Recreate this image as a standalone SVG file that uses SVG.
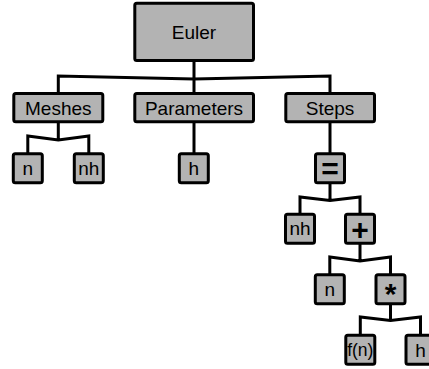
<svg xmlns="http://www.w3.org/2000/svg" width="429" height="369" viewBox="0 0 429 369">
  <style>
    .box { fill: #b3b3b3; stroke: #000; stroke-width: 3; }
    .lbl { font-family: "Liberation Sans", Arial, sans-serif; font-size: 19px; fill: #000; text-anchor: middle; }
    .op { font-family: "Liberation Sans", Arial, sans-serif; font-weight: bold; font-size: 30px; fill: #000; text-anchor: middle; }
    .wire { fill: none; stroke: #000; stroke-width: 3; stroke-linejoin: miter; }
  </style>
  <rect width="429" height="369" fill="#fff"/>

  <g id="connectors">
    <path class="wire" d="M194,62 V79 M58.3,93 V76 L194,79 L330,76 V93 M194,79 V93"/>
    <path class="wire" d="M58.3,123 V140 M27.8,153 V136 L58.3,140 L88.8,136 V153"/>
    <path class="wire" d="M194,123 V153"/>
    <path class="wire" d="M330,123 V153"/>
    <path class="wire" d="M330,184 V200.5 M300,213 V197 L330,200.5 L360,197 V213"/>
    <path class="wire" d="M360,244 V261 M329.8,274 V257 L360,261 L390.5,257 V274"/>
    <path class="wire" d="M390.5,304 V320.5 M360.3,334 V317 L390.5,320.5 L420.5,317 V334"/>
  </g>

  <g id="euler">
    <rect class="box" x="134.8" y="3.2" width="118.7" height="57.3" rx="2"/>
    <text class="lbl" x="194" y="39">Euler</text>
  </g>
  <g id="meshes">
    <rect class="box" x="13.8" y="93.5" width="89" height="28.3" rx="2"/>
    <text class="lbl" x="58.3" y="114.8">Meshes</text>
  </g>
  <g id="parameters">
    <rect class="box" x="134.8" y="93.5" width="118.7" height="28.3" rx="2"/>
    <text class="lbl" x="194" y="114.8">Parameters</text>
  </g>
  <g id="steps">
    <rect class="box" x="285.8" y="93.5" width="88.7" height="28.3" rx="2"/>
    <text class="lbl" x="330" y="114.8">Steps</text>
  </g>

  <g id="meshes-n">
    <rect class="box" x="13.3" y="153.8" width="29" height="29" rx="2"/>
    <text class="lbl" x="27.8" y="175">n</text>
  </g>
  <g id="meshes-nh">
    <rect class="box" x="74.3" y="153.8" width="29" height="29" rx="2"/>
    <text class="lbl" x="88.8" y="175">nh</text>
  </g>
  <g id="param-h">
    <rect class="box" x="179.3" y="153.8" width="29" height="29" rx="2"/>
    <text class="lbl" x="193.8" y="175">h</text>
  </g>
  <g id="assign">
    <rect class="box" x="315.5" y="153.8" width="29" height="29" rx="2"/>
    <text class="op" x="330" y="179">=</text>
  </g>

  <g id="step-nh">
    <rect class="box" x="285.5" y="214.2" width="29" height="29" rx="2"/>
    <text class="lbl" x="300" y="235.4">nh</text>
  </g>
  <g id="plus">
    <rect class="box" x="345.5" y="214.2" width="29" height="29" rx="2"/>
    <text class="op" x="360" y="239.5">+</text>
  </g>

  <g id="step-n">
    <rect class="box" x="315.3" y="274.8" width="29" height="29" rx="2"/>
    <text class="lbl" x="329.8" y="296">n</text>
  </g>
  <g id="times">
    <rect class="box" x="376" y="274.8" width="29" height="29" rx="2"/>
    <text class="op" x="390.5" y="304">*</text>
  </g>

  <g id="f-of-n">
    <rect class="box" x="345.8" y="335.3" width="29" height="29" rx="2"/>
    <text class="lbl" x="360.3" y="355.5" style="font-size:17.5px">f(n)</text>
  </g>
  <g id="step-h">
    <rect class="box" x="406" y="335.3" width="29" height="29" rx="2"/>
    <text class="lbl" x="420.5" y="356.5">h</text>
  </g>
</svg>
